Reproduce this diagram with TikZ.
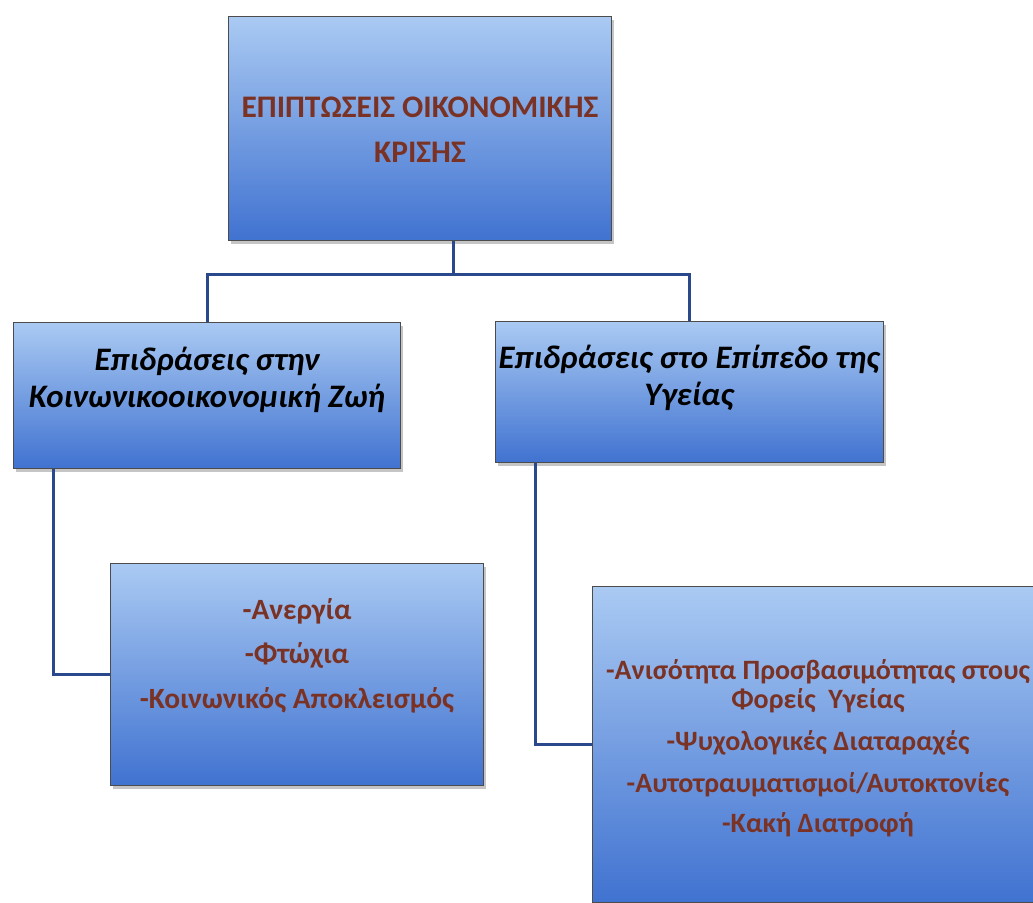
\documentclass[tikz,border=0pt]{standalone}
\usepackage{fontspec}
\setmainfont{Carlito}
\usetikzlibrary{shadows}
\definecolor{boxtop}{RGB}{170,202,243}
\definecolor{boxbot}{RGB}{64,114,208}
\definecolor{edgeblue}{RGB}{42,72,140}
\definecolor{txtred}{RGB}{122,50,36}
\tikzset{
  box/.style={draw=black!70, line width=1pt, top color=boxtop, bottom color=boxbot,
    drop shadow={shadow xshift=2pt, shadow yshift=-3pt, opacity=0.45},
    inner sep=0pt, anchor=north west},
  conn/.style={draw=edgeblue, line width=3pt},
  midtxt/.style={text=black, align=center, font=\bfseries\itshape\fontsize{32.8}{37}\selectfont},
}
\begin{document}
\begin{tikzpicture}[x=1pt,y=-1pt]
\useasboundingbox (0,0) rectangle (1033,902);
\clip (0,0) rectangle (1033,902);
\fill[white] (0,0) rectangle (1033,902);
% boxes
\node[box, minimum width=383pt, minimum height=224pt] (top) at (228,16) {};
\node[box, minimum width=387pt, minimum height=146pt] (left) at (13,322) {};
\node[box, minimum width=388pt, minimum height=141pt] (right) at (495,321) {};
\node[box, minimum width=373pt, minimum height=222pt] (lchild) at (110,563) {};
\node[box, minimum width=455pt, minimum height=316pt] (rchild) at (592,586) {};
% texts
\node[text=txtred, align=center, font=\bfseries\fontsize{31.4}{45}\selectfont] (toptxt) at (420,130)
  {ΕΠΙΠΤΩΣΕΙΣ ΟΙΚΟΝΟΜΙΚΗΣ\\ΚΡΙΣΗΣ};
\node[midtxt] (lefttxt) at (207,380) {Επιδράσεις στην\\Κοινωνικοοικονομική Ζωή};
\node[midtxt] (righttxt) at (689,378) {Επιδράσεις στο Επίπεδο της\\Υγείας};
\node[text=txtred, align=center, font=\bfseries\fontsize{29.4}{35}\selectfont] (lchildtxt) at (297,656)
  {-Ανεργία\\[9pt]-Φτώχια\\[10pt]-Κοινωνικός Αποκλεισμός};
\node[text=txtred, align=center, font=\bfseries\fontsize{28}{29}\selectfont] (rchildtxt) at (818,748)
  {-Ανισότητα Προσβασιμότητας στους\\Φορείς \ Υγείας\\[13pt]-Ψυχολογικές Διαταραχές\\[13pt]-Αυτοτραυματισμοί/Αυτοκτονίες\\[11pt]-Κακή Διατροφή};
% connectors
\coordinate (tstart) at ([xshift=225pt]top.south west);
\coordinate (junc) at ([yshift=-33pt]tstart);
\draw[conn] (tstart) -- (junc) -| (left.north);
\draw[conn] (junc) -| (right.north);
\coordinate (lstart) at ([xshift=40pt]left.south west);
\coordinate (rstart) at ([xshift=40pt]right.south west);
\draw[conn] (lstart) |- (lchild.west);
\draw[conn] (rstart) |- (rchild.west);
\end{tikzpicture}
\end{document}
